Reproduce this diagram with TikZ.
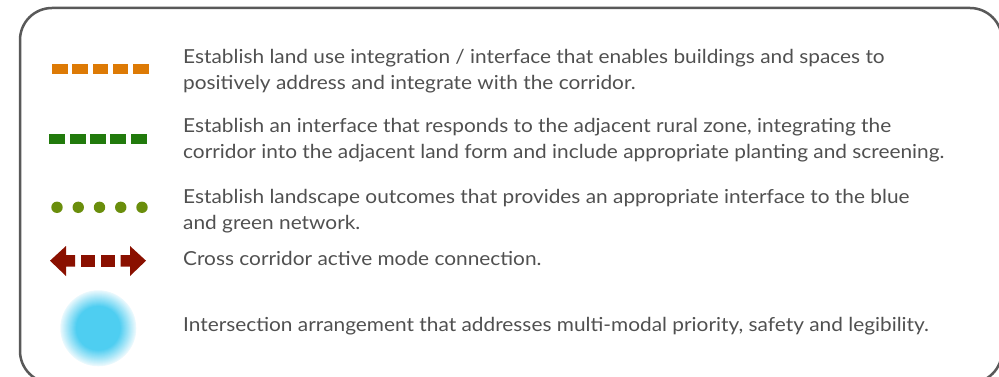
\documentclass[tikz,border=0pt]{standalone}
\usepackage{fontspec}
\setmainfont{Lato}[FakeStretch=1.08]
\definecolor{boxgray}{HTML}{595959}
\definecolor{txtgray}{HTML}{505050}
\definecolor{orangec}{HTML}{DD7A05}
\definecolor{greenc}{HTML}{217A0C}
\definecolor{olivec}{HTML}{6A8E0C}
\definecolor{redc}{HTML}{8A1000}
\definecolor{bluec}{HTML}{4ECEF1}
\begin{document}
\begin{tikzpicture}[x=1pt,y=-1pt,
  legtext/.style={anchor=base west,inner sep=0pt,text=txtgray,
    font=\fontsize{19.3}{26}\selectfont,align=left}]
\useasboundingbox (0,0) rectangle (999,377);
\begin{scope}
\clip (0,0) rectangle (999,377);
\draw[boxgray,line width=2.5pt,rounded corners=32pt] (20,8) rectangle (1002,383);
\end{scope}
% orange dashes
\foreach \i in {0,...,4}{
  \fill[orangec] ({52+\i*20.3},64) rectangle ++(15.5,10.3);
}
% green dashes
\foreach \i in {0,...,4}{
  \fill[greenc] ({49.3+\i*20.3},134) rectangle ++(16,10.3);
}
% olive dots
\foreach \i in {0,...,4}{
  \fill[olivec] ({57+\i*21.25},207.3) circle (5.7);
}
% red arrow
\fill[redc] (50,260.7) -- (66,246) -- (66,255) -- (75,255) -- (75,266.5) -- (66,266.5) -- (66,276) -- cycle;
\fill[redc] (81,255) rectangle (95,266.5);
\fill[redc] (100.7,255) rectangle (114.7,266.5);
\fill[redc] (146,260.7) -- (130,246) -- (130,255) -- (120.5,255) -- (120.5,266.5) -- (130,266.5) -- (130,276) -- cycle;
% blue dot (soft edge)
\foreach \r in {38,37.5,...,0.5}{
  \pgfmathsetmacro{\p}{\r<=22 ? 100 : max(8,100-(\r-22)*5.6)}
  \fill[bluec!\p!white] (98.3,328.3) circle (\r);
}
% texts
\node[legtext] (t1) at (183,89.5) {Establish land use integration / interface that enables buildings and spaces to\\positively address and integrate with the corridor.};
\node[legtext] (t2) at (183,159) {Establish an interface that responds to the adjacent rural zone, integrating the\\corridor into the adjacent land form and include appropriate planting and screening.};
\node[legtext] (t3) at (183,229.5) {Establish landscape outcomes that provides an appropriate interface to the blue\\and green network.};
\node[legtext] (t4) at (183,265.5) {Cross corridor active mode connection.};
\node[legtext] (t5) at (183,331) {Intersection arrangement that addresses multi-modal priority, safety and legibility.};
\end{tikzpicture}
\end{document}
